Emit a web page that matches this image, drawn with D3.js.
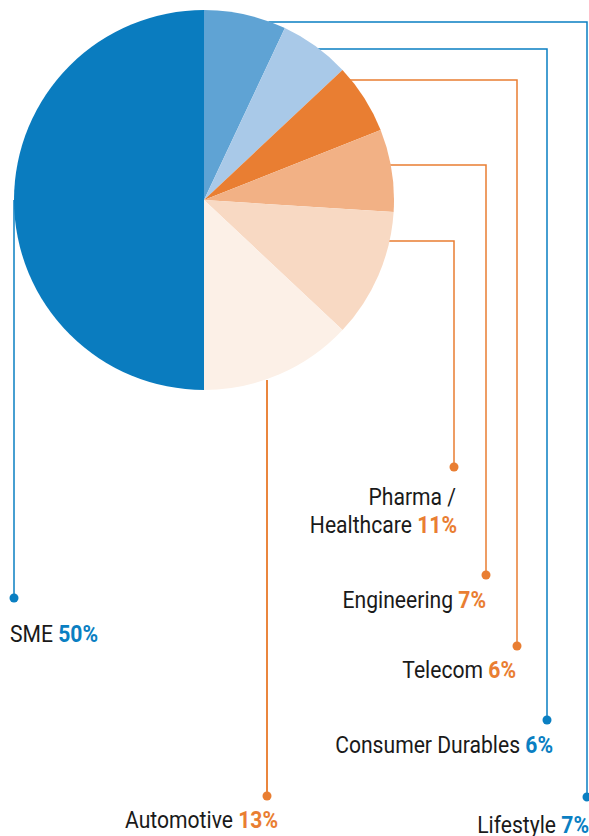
<!DOCTYPE html>
<html lang="en">
<head>
<meta charset="utf-8">
<title>Sector split</title>
<script src="https://d3js.org/d3.v7.min.js"></script>
<style>
body { margin: 0; background: #fff; }
svg { display: block; font-family: "Roboto", "Liberation Sans", sans-serif; }
.name { fill: #1a1a1a; }
.pct { font-weight: bold; }
</style>
</head>
<body>
<script>
// data, clockwise from 12 o'clock
var sectors = ["Lifestyle", "Consumer Durables", "Telecom", "Engineering", "Pharma / Healthcare", "Automotive", "SME"];
var shares = [7, 6, 6, 7, 11, 13, 50];
var sliceColors = ["#5fa3d4", "#a9c9e8", "#e97e32", "#f2b185", "#f8d9c3", "#fcf0e7", "#0a7cbf"];
var accent = ["#0a7fc2", "#0a7fc2", "#e97e32", "#e97e32", "#e97e32", "#e97e32", "#0a7fc2"];

// leader layout: elbow line from pie edge to a dot, label under the dot
var leaders = [
  {hy: 22,  dx: 587, dy: 797, tx: 589, ty: 833, anchor: "end"},
  {hy: 49,  dx: 547, dy: 720, tx: 553, ty: 753, anchor: "end"},
  {hy: 80,  dx: 517, dy: 646, tx: 516, ty: 678, anchor: "end"},
  {hy: 165, dx: 486, dy: 575, tx: 486, ty: 608, anchor: "end"},
  {hy: 241, dx: 454, dy: 467, tx: 457, ty: 505, anchor: "end"},
  {vx: 267, vy: 380, dx: 267, dy: 796, tx: 278, ty: 828, anchor: "end"},
  {vx: 14,  vy: 200, dx: 14,  dy: 598, tx: 10,  ty: 642, anchor: "start"}
];

var width = 589, height = 836;
var cx = 204, cy = 200, r = 190;
var fontSize = 24, squeeze = 0.88;

var svg = d3.select("body").append("svg").attr("width", width).attr("height", height);

var pie = d3.pie().sort(null).value(function(d) { return d; });
var arc = d3.arc().innerRadius(0).outerRadius(r);

// leader lines first, pie on top of them
var lines = svg.append("g");
leaders.forEach(function(l, i) {
  var pts;
  if (l.hy !== undefined) {
    var ex = cx + Math.sqrt(r * r - (l.hy - cy) * (l.hy - cy)) - 2;
    pts = [[ex, l.hy], [l.dx, l.hy], [l.dx, l.dy]];
  } else {
    pts = [[l.vx, l.vy], [l.dx, l.dy]];
  }
  lines.append("path")
    .attr("d", d3.line()(pts))
    .attr("fill", "none")
    .attr("stroke", accent[i])
    .attr("stroke-width", 1.5);
});

svg.append("g")
  .attr("transform", "translate(" + cx + "," + cy + ")")
  .selectAll("path")
  .data(pie(shares))
  .enter().append("path")
  .attr("d", arc)
  .attr("fill", function(d, i) { return sliceColors[i]; });

// automotive leader sits over the pale slice
svg.append("path")
  .attr("d", d3.line()([[leaders[5].vx, leaders[5].vy], [leaders[5].dx, leaders[5].dy]]))
  .attr("stroke", accent[5]).attr("stroke-width", 1.5);

function label(x, y, anchor) {
  return svg.append("g")
    .attr("transform", "translate(" + x + "," + y + ") scale(" + squeeze + ",1)")
    .append("text")
    .attr("text-anchor", anchor)
    .style("font-size", fontSize + "px");
}

leaders.forEach(function(l, i) {
  svg.append("circle")
    .attr("cx", l.dx).attr("cy", l.dy).attr("r", 4.5)
    .attr("fill", accent[i]);

  var name = sectors[i];
  var ty = l.ty;
  if (name.indexOf(" / ") > 0) {
    var parts = name.split(" / ");
    label(l.tx - 1, ty, l.anchor).attr("class", "name").text(parts[0] + " /");
    ty += 28;
    name = parts[1];
  }
  var t = label(l.tx, ty, l.anchor);
  t.append("tspan").attr("class", "name").text(name + " ");
  t.append("tspan").attr("class", "pct").attr("fill", accent[i]).text(shares[i] + "%");
});
</script>
</body>
</html>
